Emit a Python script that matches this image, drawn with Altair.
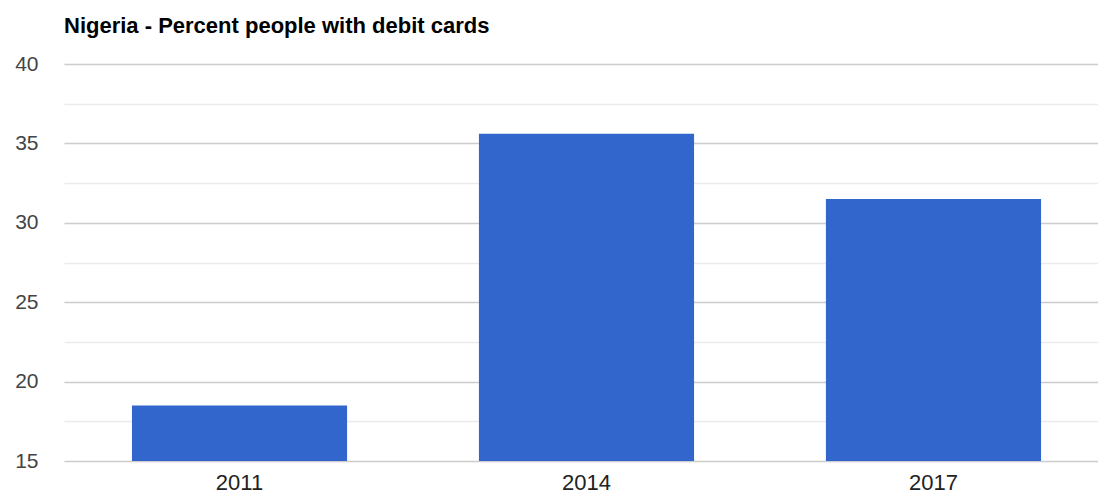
import altair as alt
import pandas as pd

years = ["2011", "2014", "2017"]
values = [18.5, 35.6, 31.5]
baseline = 15

df = pd.DataFrame({"year": years, "value": values})

FONT = "Liberation Sans"

grid_vals = [15, 17.5, 20, 22.5, 25, 27.5, 30, 32.5, 35, 37.5, 40]

chart = alt.Chart(df).mark_bar(color="#3366CC").encode(
    x=alt.X("year:N", sort=years,
            scale=alt.Scale(paddingInner=0.38, paddingOuter=0.18, align=0.544),
            axis=alt.Axis(title=None, labelAngle=0, domain=False, ticks=False,
                          labelFontSize=22, labelColor="#222222", labelFont=FONT,
                          labelPadding=11, grid=False)),
    y=alt.Y("value:Q", scale=alt.Scale(domain=[15, 40], nice=False, zero=False),
            axis=alt.Axis(title=None, values=grid_vals, domain=False, ticks=False,
                          labelFontSize=21, labelColor="#444444", labelFont=FONT,
                          labelPadding=26,
                          labelExpr="datum.value % 5 === 0 ? datum.label : ''",
                          gridColor={"condition": {"test": "datum.value % 5 === 0", "value": "#cccccc"},
                                     "value": "#ebebeb"},
                          gridWidth=1.5)),
    y2=alt.datum(baseline),
).properties(
    width=1034,
    height=397,
    title=alt.TitleParams("Nigeria - Percent people with debit cards", anchor="start",
                          frame="group",
                          fontSize=22, font=FONT, fontWeight="bold", color="#000000",
                          offset=15),
    autosize=alt.AutoSizeParams(type="none"),
    padding={"left": 64, "top": 64, "right": 0, "bottom": 35},
).configure_view(stroke=None)

chart.save("out.html", embed_options={"renderer": "svg", "actions": False})
